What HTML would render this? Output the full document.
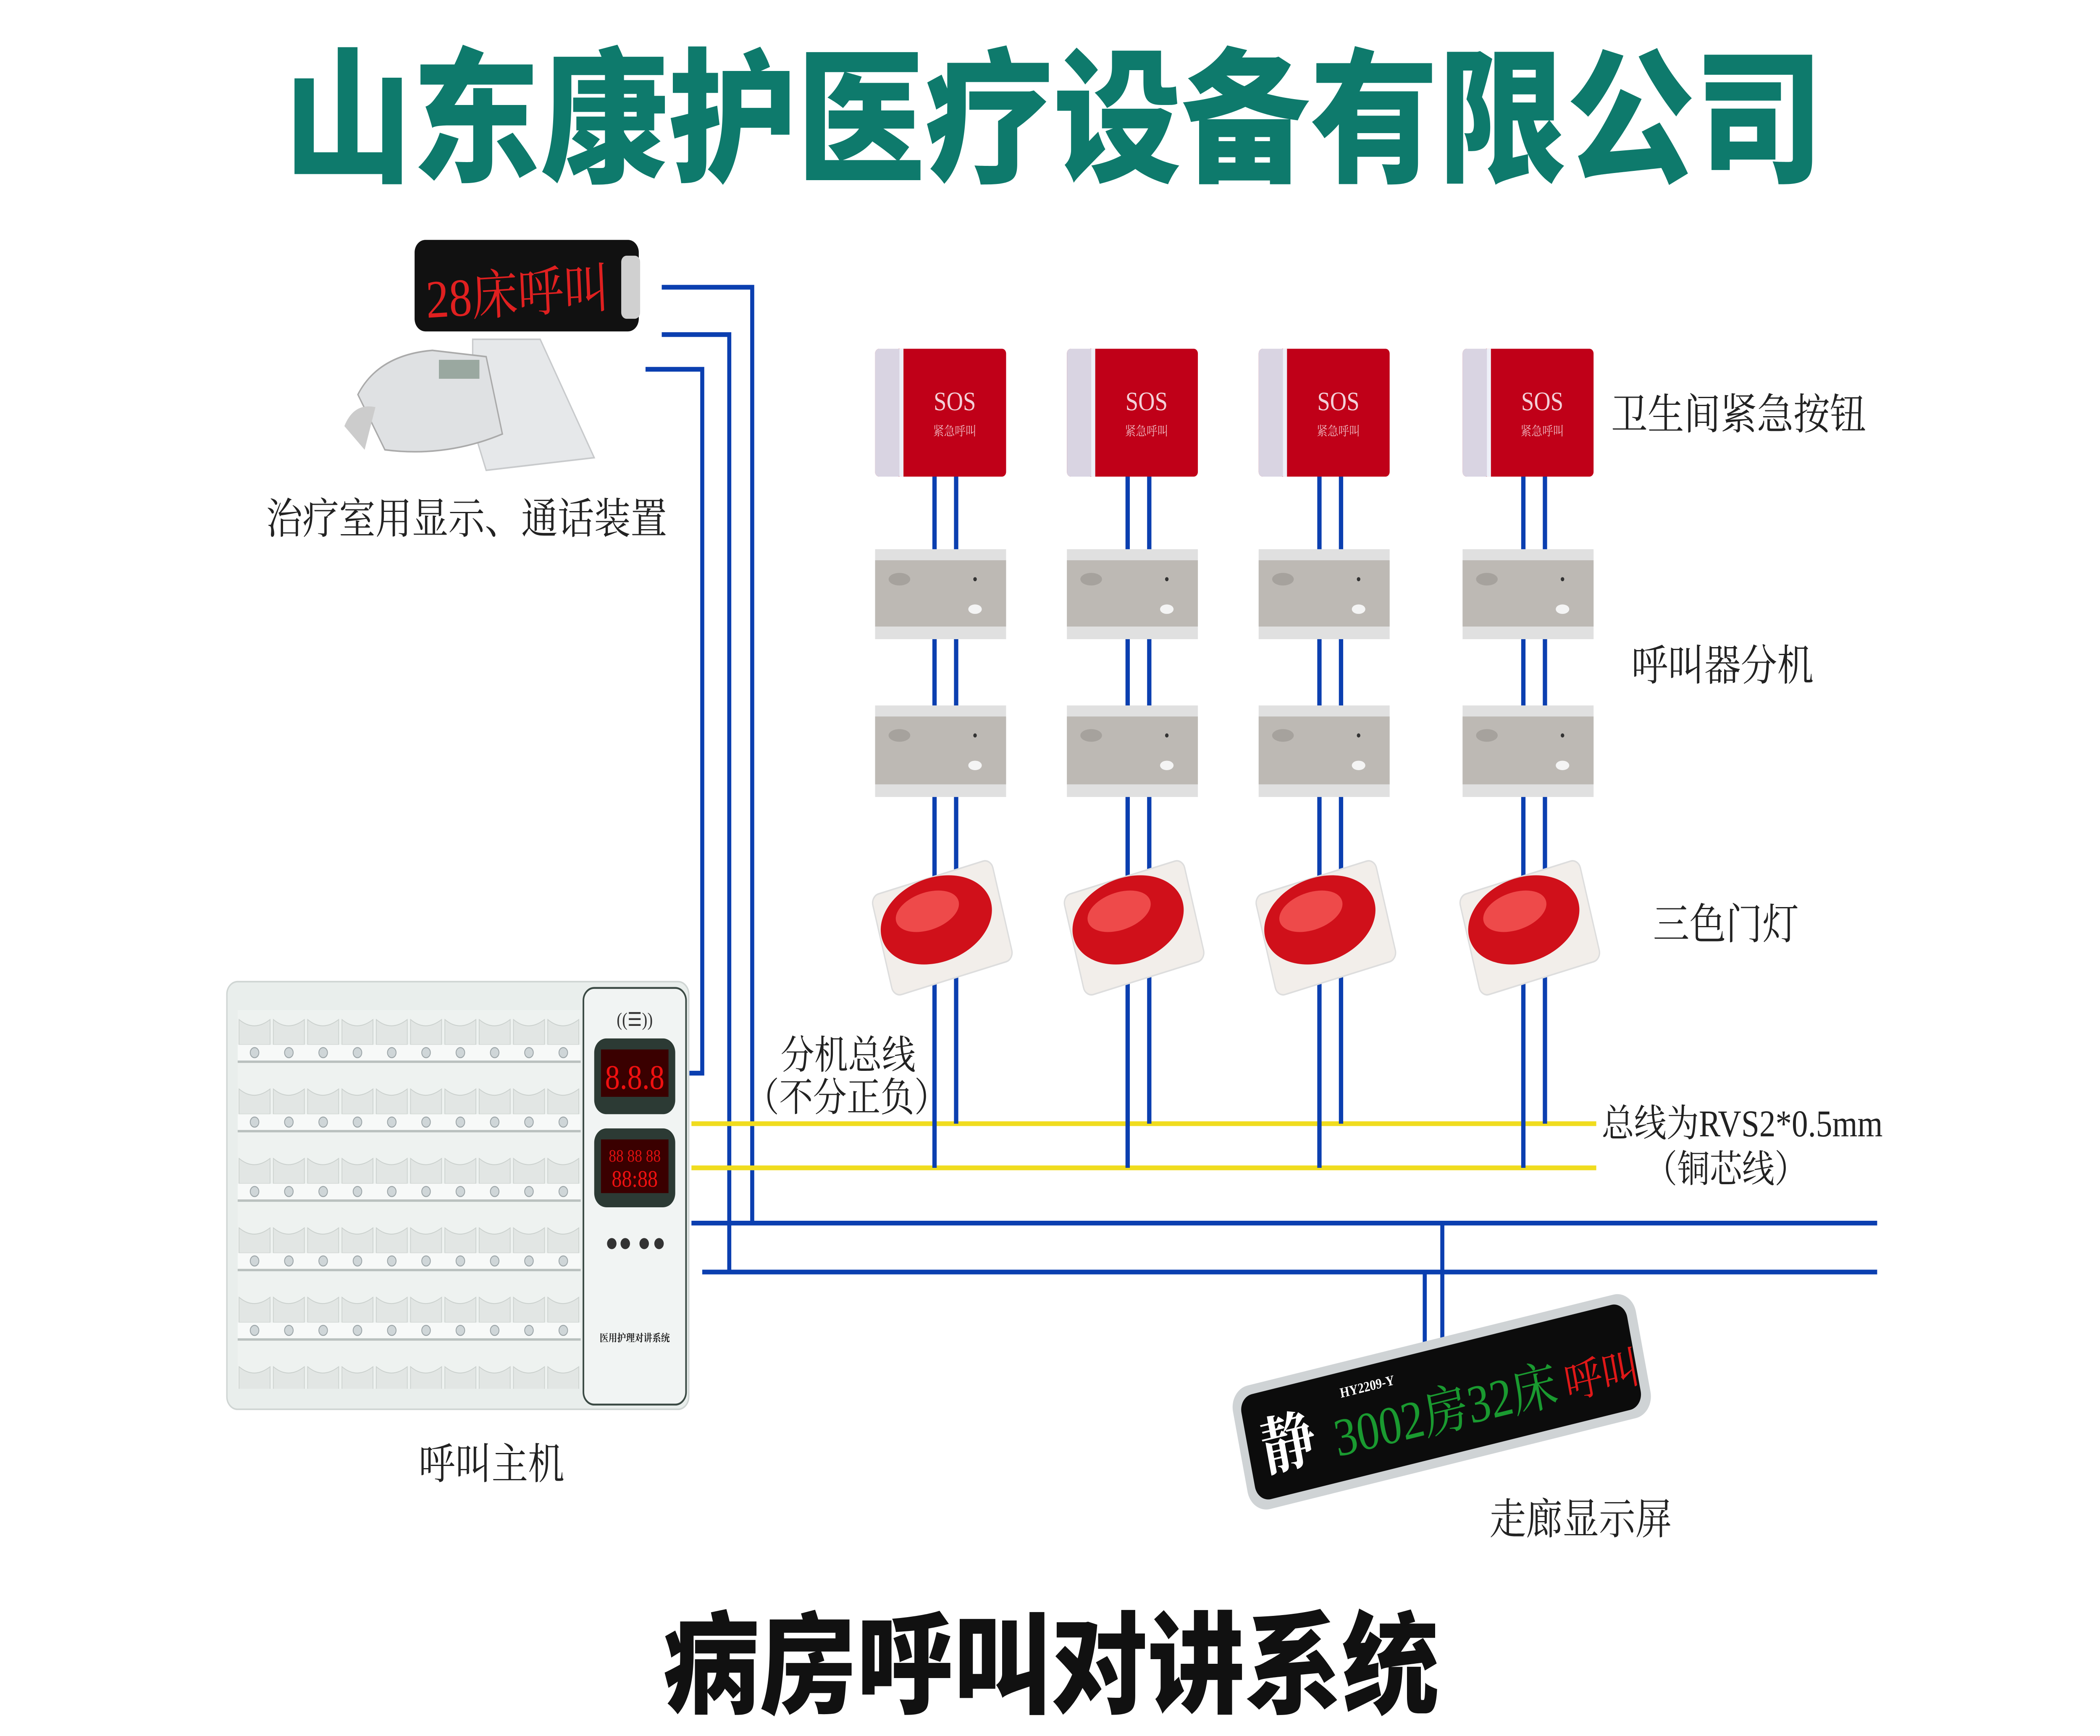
<!DOCTYPE html>
<html><head><meta charset="utf-8"><style>
html,body{margin:0;padding:0;background:#fff;width:100%;height:100%;overflow:hidden;}
svg{display:block;position:fixed;left:0;top:0;width:100vw;height:100vh}
text{font-family:"Liberation Serif","Noto Serif CJK SC",serif;}
.b{font-family:"Liberation Sans","Noto Sans CJK SC",sans-serif;font-weight:900}
</style></head><body>
<svg viewBox="0 0 1555 1100" preserveAspectRatio="none" xmlns="http://www.w3.org/2000/svg">
<defs>
<pattern id="slots" x="176" y="640" width="25.4" height="44" patternUnits="userSpaceOnUse">
<rect x="0" y="0" width="25.4" height="44" fill="#eef2f0"/>
<path d="M1 6 Q12 14 24 6 L24 22 L1 22 Z" fill="#e2e6e4" stroke="#c9cfcc" stroke-width="0.5"/>
<rect x="0" y="22" width="25.4" height="10" fill="#f7f9f8"/>
<circle cx="12.5" cy="27" r="3.2" fill="#cfd6d8" stroke="#9aa3a6" stroke-width="0.6"/>
<rect x="0" y="32" width="25.4" height="1.5" fill="#b9c0be"/>
</pattern>
</defs>
<rect width="1555" height="1100" fill="#fff"/>

<text x="780" y="108" text-anchor="middle" class="b" font-size="92" fill="#0e7a6c" textLength="1140" lengthAdjust="spacingAndGlyphs">山东康护医疗设备有限公司</text>
<text x="778" y="1080" text-anchor="middle" class="b" font-size="70" fill="#111" textLength="575" lengthAdjust="spacingAndGlyphs">病房呼叫对讲系统</text>

<g stroke="#0b3fb0" stroke-width="3" fill="none">
<polyline points="490,182 557,182 557,775"/>
<polyline points="490,212 540,212 540,806"/>
<polyline points="478,234 520,234 520,680 508,680"/>
<line x1="512" y1="775" x2="1390" y2="775"/>
<line x1="520" y1="806" x2="1390" y2="806"/>
<line x1="1068" y1="775" x2="1068" y2="858"/>
<line x1="1055" y1="806" x2="1055" y2="858"/>
</g>
<g stroke="#f0dc1e" stroke-width="3">
<line x1="512" y1="712" x2="1182" y2="712"/>
<line x1="512" y1="740" x2="1182" y2="740"/>
</g>

<g stroke="#0b3fb0" stroke-width="3.2">
<line x1="692" y1="302" x2="692" y2="740"/><line x1="708" y1="302" x2="708" y2="712"/>
<line x1="835" y1="302" x2="835" y2="740"/><line x1="851" y1="302" x2="851" y2="712"/>
<line x1="977" y1="302" x2="977" y2="740"/><line x1="993" y1="302" x2="993" y2="712"/>
<line x1="1128" y1="302" x2="1128" y2="740"/><line x1="1144" y1="302" x2="1144" y2="712"/>
</g>

<g>
<g transform="translate(648,221)">
<rect x="0" y="0" width="97" height="81" rx="3" fill="#c00018"/>
<rect x="0" y="0" width="20" height="81" rx="3" fill="#d9d4e2"/><rect x="18" y="0" width="3" height="81" fill="#eef0f8"/>
<text x="59" y="39" text-anchor="middle" font-size="17" fill="#f3d0d8" font-family="Liberation Sans,sans-serif">SOS</text>
<text x="59" y="55" text-anchor="middle" font-size="8" fill="#eeb8c0">紧急呼叫</text>
</g>
<g transform="translate(790,221)">
<rect x="0" y="0" width="97" height="81" rx="3" fill="#c00018"/>
<rect x="0" y="0" width="20" height="81" rx="3" fill="#d9d4e2"/><rect x="18" y="0" width="3" height="81" fill="#eef0f8"/>
<text x="59" y="39" text-anchor="middle" font-size="17" fill="#f3d0d8" font-family="Liberation Sans,sans-serif">SOS</text>
<text x="59" y="55" text-anchor="middle" font-size="8" fill="#eeb8c0">紧急呼叫</text>
</g>
<g transform="translate(932,221)">
<rect x="0" y="0" width="97" height="81" rx="3" fill="#c00018"/>
<rect x="0" y="0" width="20" height="81" rx="3" fill="#d9d4e2"/><rect x="18" y="0" width="3" height="81" fill="#eef0f8"/>
<text x="59" y="39" text-anchor="middle" font-size="17" fill="#f3d0d8" font-family="Liberation Sans,sans-serif">SOS</text>
<text x="59" y="55" text-anchor="middle" font-size="8" fill="#eeb8c0">紧急呼叫</text>
</g>
<g transform="translate(1083,221)">
<rect x="0" y="0" width="97" height="81" rx="3" fill="#c00018"/>
<rect x="0" y="0" width="20" height="81" rx="3" fill="#d9d4e2"/><rect x="18" y="0" width="3" height="81" fill="#eef0f8"/>
<text x="59" y="39" text-anchor="middle" font-size="17" fill="#f3d0d8" font-family="Liberation Sans,sans-serif">SOS</text>
<text x="59" y="55" text-anchor="middle" font-size="8" fill="#eeb8c0">紧急呼叫</text>
</g>
</g>

<g>
<g transform="translate(648,348)"><rect width="97" height="57" fill="#e0e0e0"/><rect y="7" width="97" height="42" fill="#bdb9b4"/><ellipse cx="18" cy="19" rx="8" ry="4" fill="#a6a29d"/><circle cx="74" cy="19" r="1.3" fill="#333"/><ellipse cx="74" cy="38" rx="5" ry="3" fill="#f4f4f4"/></g>
<g transform="translate(648,447)"><rect width="97" height="58" fill="#e0e0e0"/><rect y="7" width="97" height="43" fill="#bdb9b4"/><ellipse cx="18" cy="19" rx="8" ry="4" fill="#a6a29d"/><circle cx="74" cy="19" r="1.3" fill="#333"/><ellipse cx="74" cy="38" rx="5" ry="3" fill="#f4f4f4"/></g>
<g transform="translate(790,348)"><rect width="97" height="57" fill="#e0e0e0"/><rect y="7" width="97" height="42" fill="#bdb9b4"/><ellipse cx="18" cy="19" rx="8" ry="4" fill="#a6a29d"/><circle cx="74" cy="19" r="1.3" fill="#333"/><ellipse cx="74" cy="38" rx="5" ry="3" fill="#f4f4f4"/></g>
<g transform="translate(790,447)"><rect width="97" height="58" fill="#e0e0e0"/><rect y="7" width="97" height="43" fill="#bdb9b4"/><ellipse cx="18" cy="19" rx="8" ry="4" fill="#a6a29d"/><circle cx="74" cy="19" r="1.3" fill="#333"/><ellipse cx="74" cy="38" rx="5" ry="3" fill="#f4f4f4"/></g>
<g transform="translate(932,348)"><rect width="97" height="57" fill="#e0e0e0"/><rect y="7" width="97" height="42" fill="#bdb9b4"/><ellipse cx="18" cy="19" rx="8" ry="4" fill="#a6a29d"/><circle cx="74" cy="19" r="1.3" fill="#333"/><ellipse cx="74" cy="38" rx="5" ry="3" fill="#f4f4f4"/></g>
<g transform="translate(932,447)"><rect width="97" height="58" fill="#e0e0e0"/><rect y="7" width="97" height="43" fill="#bdb9b4"/><ellipse cx="18" cy="19" rx="8" ry="4" fill="#a6a29d"/><circle cx="74" cy="19" r="1.3" fill="#333"/><ellipse cx="74" cy="38" rx="5" ry="3" fill="#f4f4f4"/></g>
<g transform="translate(1083,348)"><rect width="97" height="57" fill="#e0e0e0"/><rect y="7" width="97" height="42" fill="#bdb9b4"/><ellipse cx="18" cy="19" rx="8" ry="4" fill="#a6a29d"/><circle cx="74" cy="19" r="1.3" fill="#333"/><ellipse cx="74" cy="38" rx="5" ry="3" fill="#f4f4f4"/></g>
<g transform="translate(1083,447)"><rect width="97" height="58" fill="#e0e0e0"/><rect y="7" width="97" height="43" fill="#bdb9b4"/><ellipse cx="18" cy="19" rx="8" ry="4" fill="#a6a29d"/><circle cx="74" cy="19" r="1.3" fill="#333"/><ellipse cx="74" cy="38" rx="5" ry="3" fill="#f4f4f4"/></g>
</g>

<g>
<g transform="translate(697,585) rotate(-15)"><rect x="-46" y="-30" width="92" height="66" rx="6" fill="#f2eeea" stroke="#ddd" stroke-width="1"/><ellipse cx="-3" cy="-3" rx="42" ry="27" fill="#d0101a"/><ellipse cx="-8" cy="-10" rx="24" ry="12" fill="#ee4a4a"/></g>
<g transform="translate(839,585) rotate(-15)"><rect x="-46" y="-30" width="92" height="66" rx="6" fill="#f2eeea" stroke="#ddd" stroke-width="1"/><ellipse cx="-3" cy="-3" rx="42" ry="27" fill="#d0101a"/><ellipse cx="-8" cy="-10" rx="24" ry="12" fill="#ee4a4a"/></g>
<g transform="translate(981,585) rotate(-15)"><rect x="-46" y="-30" width="92" height="66" rx="6" fill="#f2eeea" stroke="#ddd" stroke-width="1"/><ellipse cx="-3" cy="-3" rx="42" ry="27" fill="#d0101a"/><ellipse cx="-8" cy="-10" rx="24" ry="12" fill="#ee4a4a"/></g>
<g transform="translate(1132,585) rotate(-15)"><rect x="-46" y="-30" width="92" height="66" rx="6" fill="#f2eeea" stroke="#ddd" stroke-width="1"/><ellipse cx="-3" cy="-3" rx="42" ry="27" fill="#d0101a"/><ellipse cx="-8" cy="-10" rx="24" ry="12" fill="#ee4a4a"/></g>
</g>

<g font-size="27" fill="#222">
<text x="1193" y="272">卫生间紧急按钮</text>
<text x="1208" y="431">呼叫器分机</text>
<text x="1224" y="595">三色门灯</text>
<text x="1186" y="720" font-size="24">总线为RVS2*0.5mm</text>
<text x="1218" y="749" font-size="24">（铜芯线）</text>
<text x="578" y="677" font-size="25">分机总线</text>
<text x="552" y="704" font-size="25">（不分正负）</text>
<text x="197" y="338">治疗室用显示、通话装置</text>
<text x="310" y="937">呼叫主机</text>
<text x="1103" y="972">走廊显示屏</text>
</g>

<g>
<path d="M350 215 L400 215 L440 290 L360 298 L350 270 Z" fill="#e6e8ea" stroke="#c8cacc"/>
<path d="M265 250 Q280 225 320 222 L360 226 L372 275 Q330 290 285 285 Z" fill="#dfe1e3" stroke="#aaa"/>
<rect x="325" y="228" width="30" height="12" fill="#9aa8a0"/>
<path d="M255 270 Q262 255 278 258 L270 285 Z" fill="#ccc"/>
<rect x="307" y="152" width="166" height="58" rx="8" fill="#111"/>
<rect x="460" y="162" width="14" height="40" rx="4" fill="#d0d0d0"/>
<text x="315" y="198" font-size="34" fill="#e02020" font-family="Liberation Sans,Noto Sans CJK SC,sans-serif" transform="rotate(-3 380 180)">28床呼叫</text>
</g>

<g>
<rect x="168" y="622" width="342" height="271" rx="8" fill="#e9eeec" stroke="#cfd5d3"/>
<rect x="176" y="640" width="254" height="240" fill="url(#slots)"/>
<rect x="432" y="626" width="76" height="264" rx="8" fill="#f1f4f3" stroke="#3b4a44" stroke-width="1.2"/>
<text x="470" y="650" text-anchor="middle" font-size="12" fill="#333">((☰))</text>
<rect x="440" y="658" width="60" height="48" rx="9" fill="#2c3a34"/>
<rect x="445" y="665" width="50" height="30" fill="#3a0000"/>
<text x="470" y="690" text-anchor="middle" font-size="22" fill="#f01010" font-family="Liberation Mono,monospace">8.8.8</text>
<rect x="440" y="715" width="60" height="50" rx="9" fill="#2c3a34"/>
<rect x="445" y="722" width="50" height="34" fill="#3a0000"/>
<text x="470" y="736" text-anchor="middle" font-size="11" fill="#e01010" font-family="Liberation Mono,monospace">88 88 88</text>
<text x="470" y="752" text-anchor="middle" font-size="15" fill="#f01010" font-family="Liberation Mono,monospace">88:88</text>
<circle cx="453" cy="788" r="3.5" fill="#333"/><circle cx="463" cy="788" r="3.5" fill="#333"/><circle cx="477" cy="788" r="3.5" fill="#333"/><circle cx="488" cy="788" r="3.5" fill="#333"/>
<text x="470" y="850" text-anchor="middle" font-size="6.5" fill="#222" font-weight="bold">医用护理对讲系统</text>
</g>

<g transform="translate(918,918) rotate(-12)">
<rect x="0" y="-38" width="305" height="80" rx="14" fill="#cfd3d5"/>
<rect x="6" y="-32" width="292" height="68" rx="10" fill="#0c0c0c"/>
<text x="16" y="18" font-size="40" fill="#fff" font-weight="bold" font-family="Liberation Sans,Noto Sans CJK SC,sans-serif">静</text>
<text x="70" y="20" font-size="34" fill="#1a9a30" font-family="Liberation Sans,Noto Sans CJK SC,sans-serif" textLength="168" lengthAdjust="spacingAndGlyphs">3002房32床</text>
<text x="244" y="20" font-size="28" fill="#e01818" font-family="Liberation Sans,Noto Sans CJK SC,sans-serif">呼叫</text>
<text x="80" y="-16" font-size="9" fill="#fff" font-family="Liberation Sans,sans-serif" font-weight="bold">HY2209-Y</text>
</g>
</svg>
</body></html>
